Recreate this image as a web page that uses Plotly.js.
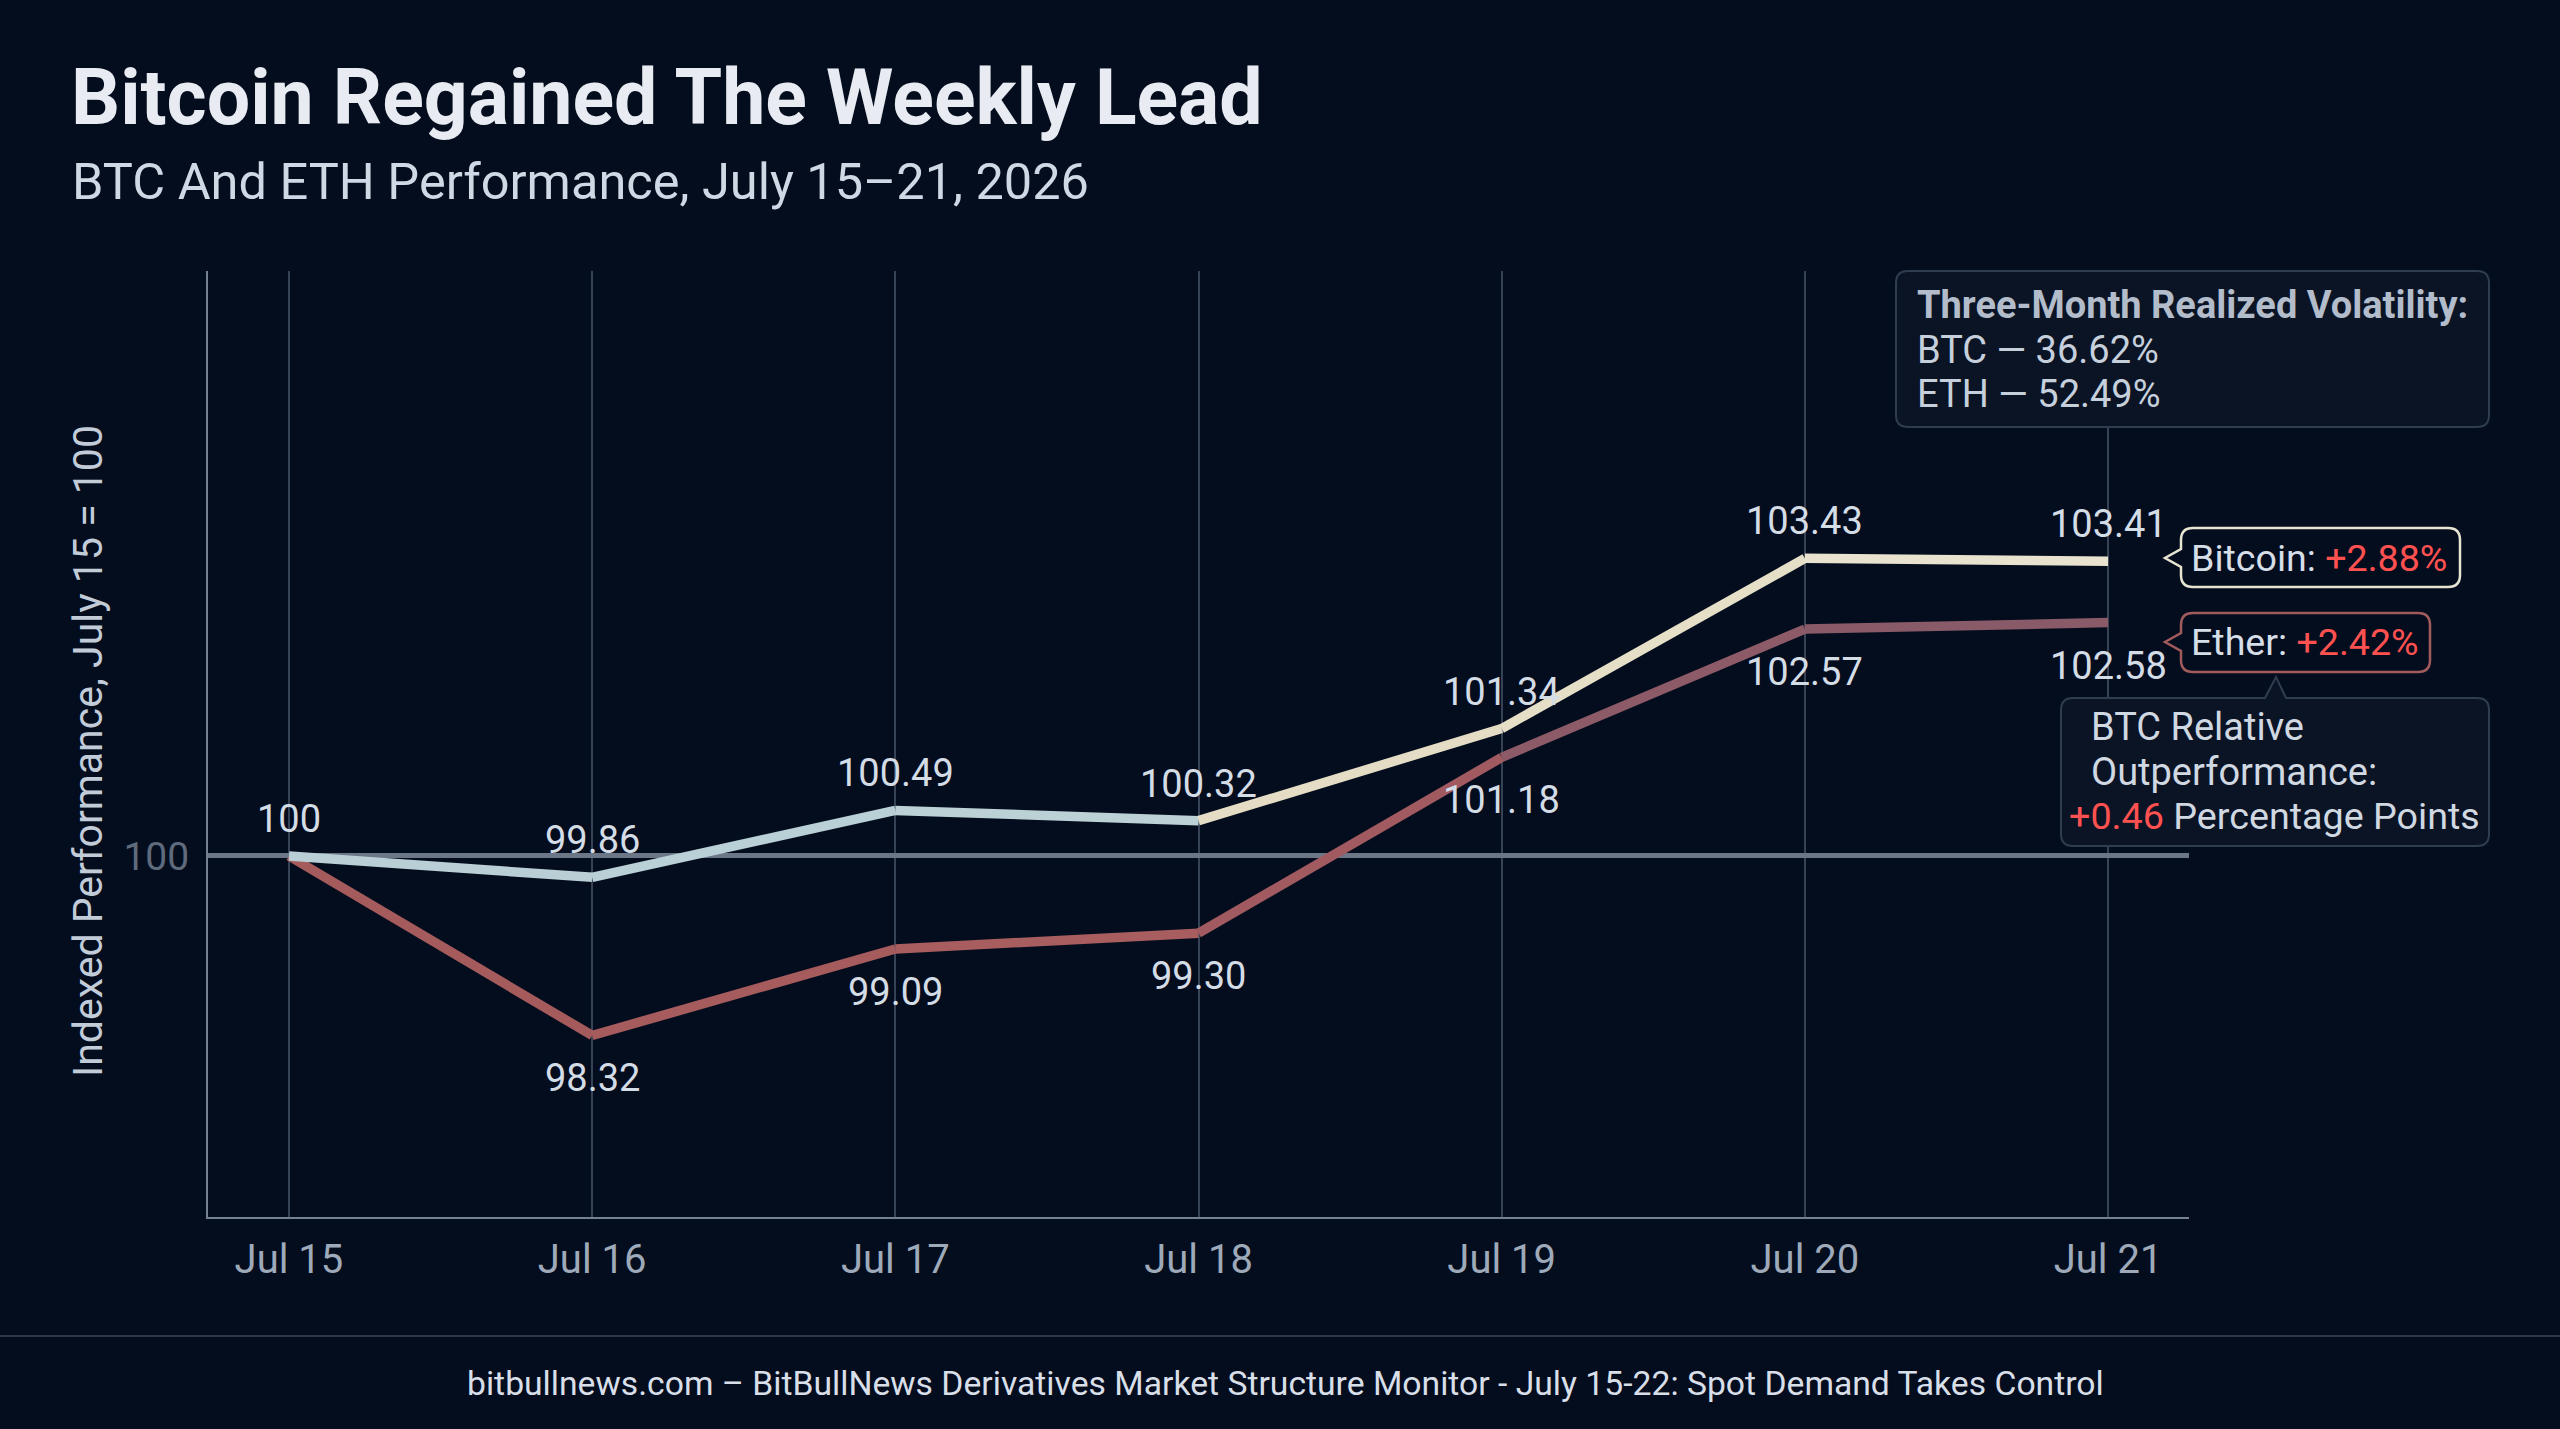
<!DOCTYPE html>
<html>
<head>
<meta charset="utf-8">
<script src="https://cdn.plot.ly/plotly-3.0.1.min.js"></script>
<style>html,body{margin:0;padding:0;background:#040d1e;overflow:hidden}</style>
</head>
<body>
<div id="chart" style="width:2560px;height:1429px"></div>
<script>
// ---- data ----
const dates = ["Jul 15","Jul 16","Jul 17","Jul 18","Jul 19","Jul 20","Jul 21"];
// line levels as read from the drawn position of each vertex
const btcLevels = [100, 99.77, 100.49, 100.38, 101.37, 103.20, 103.17];
const ethLevels = [100, 98.07, 99.00, 99.17, 101.06, 102.44, 102.51];
// printed value labels
const btcLabels = ["100","99.86","100.49","100.32","101.34","103.43","103.41"];
const ethLabels = ["","98.32","99.09","99.30","101.18","102.57","102.58"];
const btcColors = ["#b9ced5","#b9d0d7","#bcd1d6","#e4dcc4","#e6dfc8","#e8e2cf"];
const ethColors = ["#a55b5c","#a65b5d","#a85d5e","#a05a60","#8d5a67","#895a67"];
const yTicks = [100];
const yTickText = ["100"];

// ---- frame ----
const W = 2560, H = 1429;
const L = 208, R = 2189, T = 271, B = 1217;
const px = v => (v - L) / (R - L);
const py = v => (B - v) / (B - T);
const P = (x, y) => px(x) + " " + py(y);

const BG = "#040d1e", FONT = "Roboto, sans-serif", RED = "#ff5150";

function roundedBox(x0, y0, x1, y1, r, pointer) {
  let d = "M" + P(x0 + r, y0);
  if (pointer && pointer.side === "top") {
    d += " L" + P(pointer.a, y0) + " L" + P(pointer.tip[0], pointer.tip[1]) + " L" + P(pointer.b, y0);
  }
  d += " L" + P(x1 - r, y0) + " Q" + P(x1, y0) + " " + P(x1, y0 + r);
  d += " L" + P(x1, y1 - r) + " Q" + P(x1, y1) + " " + P(x1 - r, y1);
  d += " L" + P(x0 + r, y1) + " Q" + P(x0, y1) + " " + P(x0, y1 - r);
  if (pointer && pointer.side === "left") {
    d += " L" + P(x0, pointer.b) + " L" + P(pointer.tip[0], pointer.tip[1]) + " L" + P(x0, pointer.a);
  }
  d += " L" + P(x0, y0 + r) + " Q" + P(x0, y0) + " " + P(x0 + r, y0) + " Z";
  return d;
}
function box(path, fill, line, width) {
  return {type:"path", xref:"paper", yref:"paper", path, fillcolor:fill, line:{color:line, width}, layer:"above"};
}
function note(x, y, text, size, color, anchor) {
  return {xref:"paper", yref:"paper", x:px(x), y:py(y), text, showarrow:false,
    xanchor:anchor || "left", yanchor:"middle", align:anchor === "center" ? "center" : "left",
    font:{family:FONT, size, color}};
}

// ---- traces: one segment at a time so each leg keeps its own tint ----
const traces = [];
function addSeries(values, colors, name) {
  for (let i = 0; i < values.length - 1; i++) {
    traces.push({x:[dates[i], dates[i+1]], y:[values[i], values[i+1]], type:"scatter", mode:"lines",
      name, showlegend:false, hoverinfo:"skip", line:{color:colors[i], width:9.5}});
  }
}
addSeries(ethLevels, ethColors, "Ether");
addSeries(btcLevels, btcColors, "Bitcoin");

// ---- annotations ----
const annotations = [];
dates.forEach((d, i) => {
  annotations.push({x:d, y:btcLevels[i], xref:"x", yref:"y", text:btcLabels[i], showarrow:false, yshift:37,
    xanchor:"center", yanchor:"middle", font:{family:FONT, size:38, color:"#d4dce6"}});
  if (ethLabels[i]) annotations.push({x:d, y:ethLevels[i], xref:"x", yref:"y", text:ethLabels[i], showarrow:false, yshift:-43,
    xanchor:"center", yanchor:"middle", font:{family:FONT, size:38, color:"#d4dce6"}});
});
annotations.push(
  note(70, 181, "BTC And ETH Performance, July 15–21, 2026", 50.5, "#cfd8e4"),
  note(1915, 305, "<b>Three-Month Realized Volatility:</b>", 38, "#b2bcca"),
  note(1915, 350, "BTC — 36.62%", 38, "#c6d0dc"),
  note(1915, 394, "ETH — 52.49%", 38, "#c6d0dc"),
  note(2189, 558, 'Bitcoin: <span style="color:' + RED + '">+2.88%</span>', 37.6, "#d6dee8"),
  note(2189, 642, 'Ether: <span style="color:' + RED + '">+2.42%</span>', 37.6, "#d6dee8"),
  note(2089, 727, "BTC Relative", 38, "#d0d8e2"),
  note(2089, 772, "Outperformance:", 38, "#d0d8e2"),
  note(2067, 816, '<span style="color:' + RED + '">+0.46</span> Percentage Points', 37.7, "#d0d8e2"),
  note(1285, 1383, "bitbullnews.com – BitBullNews Derivatives Market Structure Monitor - July 15-22: Spot Demand Takes Control", 33.7, "#d8dfe8", "center")
);

// ---- shapes ----
const shapes = [
  {type:"line", xref:"paper", yref:"paper", x0:px(0), x1:px(W), y0:py(1336), y1:py(1336), line:{color:"#2b3748", width:2}},
  box(roundedBox(1896, 271, 2489, 427, 12), "#0a1425", "#2f3d50", 2),
  box(roundedBox(2061, 698, 2489, 846, 12, {side:"top", tip:[2276, 677], a:2265, b:2286}), "#0a1425", "#2f3d50", 2),
  box(roundedBox(2181, 528, 2460, 587, 12, {side:"left", tip:[2165, 558], a:549, b:567}), BG, "#e8e4d2", 2.5),
  box(roundedBox(2181, 613, 2430, 672, 12, {side:"left", tip:[2165, 642], a:633, b:651}), BG, "#a25b5d", 2.5)
];

const layout = {
  width:W, height:H, autosize:false,
  paper_bgcolor:BG, plot_bgcolor:BG,
  font:{family:FONT, color:"#d4dce6"},
  margin:{l:L, r:W - R, t:T, b:H - B, pad:0},
  showlegend:false,
  title:{text:"<b>Bitcoin Regained The Weekly Lead</b>", x:71/W, xanchor:"left", xref:"container",
    y:1 - 97/H, yanchor:"middle", yref:"container", font:{family:FONT, size:77, color:"#e8ecf2"}},
  xaxis:{type:"category", range:[-0.267, 6.267], tickmode:"array", tickvals:dates, ticktext:dates, showgrid:true,
    gridcolor:"#364357", gridwidth:1.5, showline:true, linecolor:"#75818f", linewidth:2, zeroline:false, ticks:"",
    ticklabelstandoff:6, tickfont:{family:FONT, size:40, color:"#9eaab9"}},
  yaxis:{range:[96.118, 106.29], tickmode:"array", tickvals:yTicks, ticktext:yTickText, showgrid:true,
    gridcolor:"#6b7686", gridwidth:5, showline:true, linecolor:"#75818f", linewidth:2, zeroline:false, ticks:"",
    ticklabelstandoff:9, tickfont:{family:FONT, size:39, color:"#5f6b7c"},
    title:{text:"Indexed Performance, July 15 = 100", standoff:8, font:{family:FONT, size:41, color:"#c2ccd8"}}},
  shapes, annotations
};
Plotly.newPlot("chart", traces, layout, {displayModeBar:false, responsive:false}).then(() => {
  const t = document.querySelector(".g-ytitle");
  if (t) t.setAttribute("transform", "translate(0,7)");
});
</script>
</body>
</html>
